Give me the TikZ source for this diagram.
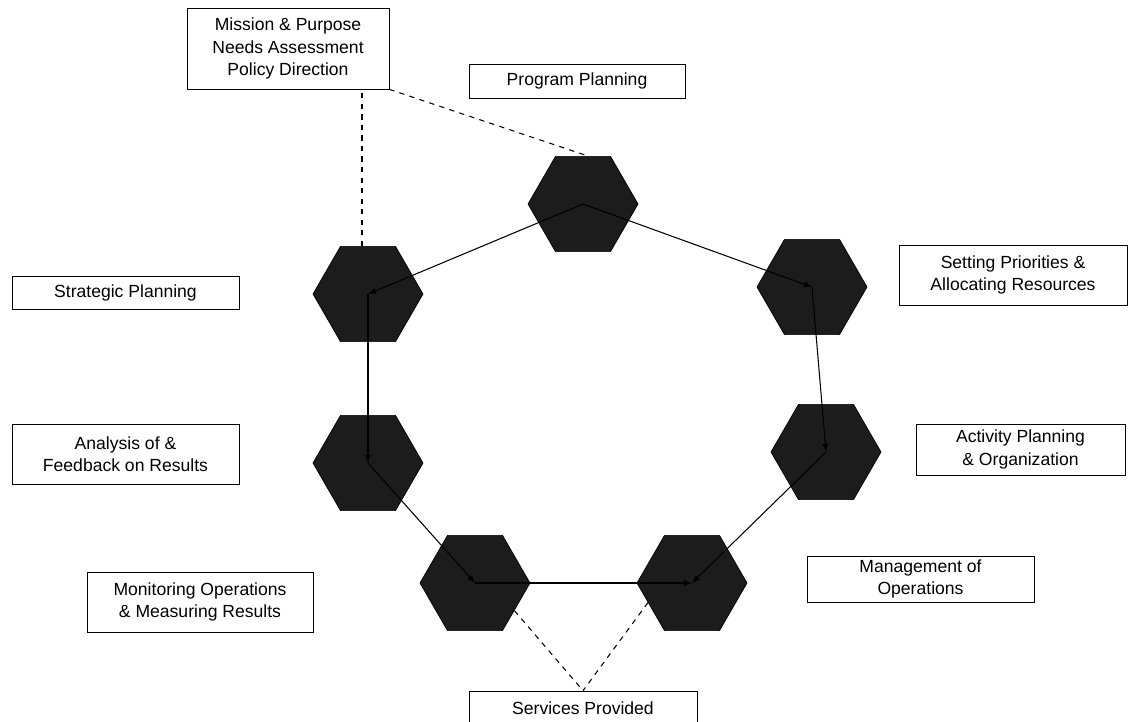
\documentclass[tikz,border=0pt]{standalone}
\usepackage{fontspec}
\setmainfont{Liberation Sans}
\usepackage{tikz}
\usetikzlibrary{arrows,shapes.geometric}
\definecolor{hexfill}{RGB}{28,28,28}

\begin{document}
\begin{tikzpicture}[>=latex, x=0.02cm, y=-0.02cm,
		hexa/.style={draw, fill=hexfill, regular polygon, regular polygon sides=6, minimum size=2.2cm, inner sep=0pt},
		label box/.style={draw, fill=white, align=center, inner sep=1pt, font=\fontsize{10}{12.8}\selectfont},
		flow/.style={->, line width=0.6pt},
		link/.style={dashed, line width=0.6pt}]
		\useasboundingbox (0,0) rectangle (1135,721);
		%\draw [help lines] (0,0) grid (1135,721);
		\clip (0,0) rectangle (1135,721);
		
		% hexagons
		\node [hexa] (prog) at (583,204) {};
		\node [hexa] (strat) at (368,294) {};
		\node [hexa] (prio) at (812,287) {};
		\node [hexa] (anal) at (368,463) {};
		\node [hexa] (act) at (826,452) {};
		\node [hexa] (mon) at (475,583) {};
		\node [hexa] (mgmt) at (692,583) {};
		
		% labels
		\node [label box, minimum width=4.04cm, minimum height=1.62cm] (mission) at (288,48.5) {Mission \& Purpose\\Needs Assessment\\Policy Direction};
		\node [label box, minimum width=4.32cm, minimum height=0.68cm] (progl) at (577,81) {Program Planning};
		\node [label box, minimum width=4.54cm, minimum height=0.66cm] (stratl) at (125.5,292.5) {Strategic Planning};
		\node [label box, minimum width=4.56cm, minimum height=1.2cm] (priol) at (1013,275) {Setting Priorities \&\\Allocating Resources};
		\node [label box, minimum width=4.54cm, minimum height=1.2cm] (anall) at (125.5,454) {Analysis of \&\\Feedback on Results};
		\node [label box, minimum width=4.18cm, minimum height=1.02cm] (actl) at (1020.5,449.5) {Activity Planning\\\& Organization};
		\node [label box, minimum width=4.52cm, minimum height=1.2cm] (monl) at (200,602) {Monitoring Operations\\\& Measuring Results};
		\node [label box, minimum width=4.54cm, minimum height=0.92cm] (mgmtl) at (920.5,579) {Management of\\Operations};
		\node [label box, minimum width=4.56cm, minimum height=0.68cm] (serv) at (583,708) {Services Provided};
		
		% cycle
		\draw [flow] (prog.center) -- (strat.center);
		\draw [flow] (prog.center) -- (prio.center);
		\draw [flow] (prio.center) -- (act.center);
		\draw [flow] (act.center) -- (mgmt.center);
		\draw [flow] (strat.center) -- (anal.center);
		\draw [flow] (anal.center) -- (mon.center);
		\draw [flow] (mon.center) -- (mgmt.center);
		
		% dashed links
		\draw [link] ([xshift=-0.12cm]strat.north) -- ([xshift=-0.12cm]strat.north |- mission.south);
		\draw [link] (mission.south east) -- ([xshift=0.1cm]prog.north);
		\draw [link] (mon.-35) -- (serv.north);
		\draw [link] (mgmt.-156) -- (serv.north);
	\end{tikzpicture}
\end{document}
